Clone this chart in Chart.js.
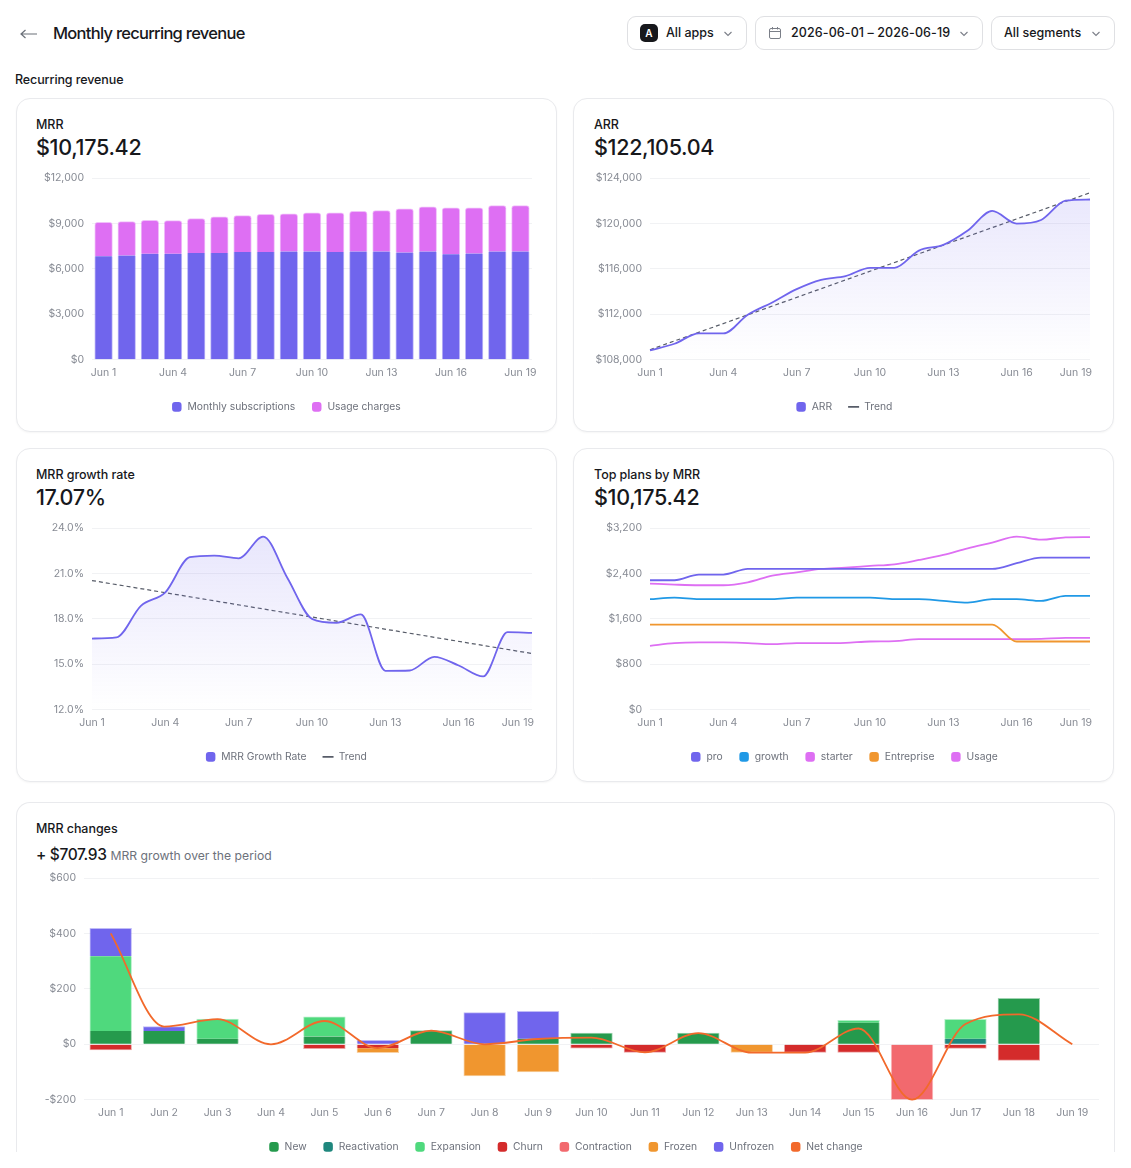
<!DOCTYPE html>
<html lang="en">
<head>
<meta charset="utf-8">
<title>Monthly recurring revenue</title>
<script src="https://cdn.jsdelivr.net/npm/chart.js@4"></script>
<style>
  html, body { margin: 0; background: #fff; }
  body { position: relative; width: 1131px; height: 1168px; overflow: hidden; font-family: Inter, sans-serif; color: #17181c; }
  .abs { position: absolute; white-space: nowrap; }
  .page-title { left: 53px; top: 22px; font-size: 16.5px; font-weight: 500; line-height: 22px; letter-spacing: -0.72px; }
  .section { left: 15px; top: 71px; font-size: 12.5px; font-weight: 500; line-height: 17px; letter-spacing: -0.1px; }
  .select { top: 16px; height: 32px; border: 1px solid #dfe0e3; border-radius: 9px; box-sizing: content-box; font-size: 12.5px; font-weight: 500; line-height: 32px; }
  .select span { position: absolute; top: 0; white-space: nowrap; }
  .select svg { position: absolute; }
  .app-badge { position: absolute; left: 12px; top: 7px; width: 18px; height: 18px; border-radius: 5px; background: #17181c; color: #fff; font-size: 10px; font-weight: 600; line-height: 18px; text-align: center; }
  .card { position: absolute; box-sizing: border-box; width: 541px; height: 334px; background: #fff; border: 1px solid #e9eaed; border-radius: 14px; box-shadow: 0 1px 2px rgba(20, 22, 30, 0.04); }
  .card.wide { top: 802px; width: 1099px; height: 350px; border-bottom: none; border-radius: 14px 14px 0 0; box-shadow: none; }
  .card-label { left: 20px; top: 17px; font-size: 12.5px; font-weight: 500; line-height: 17px; letter-spacing: -0.05px; }
  .card-value { left: 20px; top: 34px; font-size: 21.5px; font-weight: 500; line-height: 28px; letter-spacing: -0.3px; }
  .delta { left: 20px; top: 41px; font-size: 15.5px; font-weight: 500; line-height: 22px; letter-spacing: -0.35px; }
  .delta small { font-size: 12.2px; font-weight: 400; color: #6d717b; letter-spacing: 0; }
  .card.lft { left: 16px; }
  .card.lft .abs { left: 19px; }
  .card.lft canvas { left: -1px; }
  canvas { position: absolute; display: block; left: 0; }
</style>
</head>
<body>
<svg class="abs" style="left:20px;top:28px" width="18" height="12" viewBox="0 0 18 12" fill="none" stroke="#6b7079" stroke-width="1.2"><path d="M1 6h16M5.5 2 1 6l4.5 4"/></svg>
<div class="abs page-title">Monthly recurring revenue</div>

<div class="abs select" style="left:627px;width:118px">
  <div class="app-badge">A</div>
  <span style="left:38px">All apps</span>
  <svg style="left:95px;top:13px" width="10" height="8" viewBox="0 0 10 8" fill="none" stroke="#7b7f88" stroke-width="1.1"><path d="M1.5 2 5 5.5 8.5 2"/></svg>
</div>
<div class="abs select" style="left:755px;width:226px">
  <svg style="left:13px;top:10px" width="12" height="12" viewBox="0 0 12 12" fill="none" stroke="#7b7f88" stroke-width="1"><rect x="0.5" y="1.5" width="11" height="10" rx="1.5"/><path d="M0.5 4.5h11M3.5 0v2.5M8.5 0v2.5"/></svg>
  <span style="left:35px;letter-spacing:0.1px">2026-06-01 – 2026-06-19</span>
  <svg style="left:203px;top:13px" width="10" height="8" viewBox="0 0 10 8" fill="none" stroke="#7b7f88" stroke-width="1.1"><path d="M1.5 2 5 5.5 8.5 2"/></svg>
</div>
<div class="abs select" style="left:991px;width:122px">
  <span style="left:12px">All segments</span>
  <svg style="left:99px;top:13px" width="10" height="8" viewBox="0 0 10 8" fill="none" stroke="#7b7f88" stroke-width="1.1"><path d="M1.5 2 5 5.5 8.5 2"/></svg>
</div>

<div class="abs section">Recurring revenue</div>

<div class="card lft" style="top:98px">
  <div class="abs card-label">MRR</div>
  <div class="abs card-value">$10,175.42</div>
  <canvas id="mrrChart" width="540" height="263" style="top:69px"></canvas>
</div>
<div class="card" style="left:573px;top:98px">
  <div class="abs card-label">ARR</div>
  <div class="abs card-value">$122,105.04</div>
  <canvas id="arrChart" width="540" height="263" style="top:69px"></canvas>
</div>
<div class="card lft" style="top:448px">
  <div class="abs card-label">MRR growth rate</div>
  <div class="abs card-value">17.07%</div>
  <canvas id="growthChart" width="540" height="263" style="top:69px"></canvas>
</div>
<div class="card" style="left:573px;top:448px">
  <div class="abs card-label">Top plans by MRR</div>
  <div class="abs card-value">$10,175.42</div>
  <canvas id="plansChart" width="540" height="263" style="top:69px"></canvas>
</div>
<div class="card wide lft">
  <div class="abs card-label">MRR changes</div>
  <div class="abs delta">+ $707.93 <small>MRR growth over the period</small></div>
  <canvas id="changesChart" width="1099" height="294" style="top:65px"></canvas>
</div>

<script>
const days = ['Jun 1', 'Jun 2', 'Jun 3', 'Jun 4', 'Jun 5', 'Jun 6', 'Jun 7', 'Jun 8', 'Jun 9', 'Jun 10',
    'Jun 11', 'Jun 12', 'Jun 13', 'Jun 14', 'Jun 15', 'Jun 16', 'Jun 17', 'Jun 18', 'Jun 19'];

const mrrTicks = [0, 3000, 6000, 9000, 12000];
const monthlySubs = [6835, 6880, 6990, 6990, 7055, 7055, 7121, 7121, 7143, 7143, 7121, 7143, 7143, 7077, 7143, 6968, 7011, 7143, 7143];
const usageCharges = [2242, 2241, 2219, 2197, 2264, 2374, 2396, 2484, 2484, 2550, 2572, 2660, 2704, 2880, 2946, 3055, 3012, 3032, 3032];

const arrTicks = [108000, 112000, 116000, 120000, 124000];
const arrValues = [108820, 109406, 110315, 110315, 111956, 113040, 114212, 115032, 115360, 116087, 116087, 117610, 118108, 119368, 121097, 119984, 120306, 122005, 122105];
const arrTrend = [108880, null, null, null, null, null, null, null, null, null, null, null, null, null, null, null, null, null, 122700];

const growthTicks = [12, 15, 18, 21, 24];
const growthValues = [16.70, 16.77, 18.86, 19.75, 22.07, 22.18, 22.00, 23.43, 20.68, 18.00, 17.74, 18.29, 14.57, 14.59, 15.49, 14.92, 14.20, 17.12, 17.07];
const growthTrend = [20.53, null, null, null, null, null, null, null, null, null, null, null, null, null, null, null, null, null, 15.71];

const planTicks = [0, 800, 1600, 2400, 3200];
const proPlan = [2280, 2280, 2380, 2380, 2480, 2480, 2480, 2480, 2480, 2480, 2480, 2480, 2480, 2480, 2480, 2580, 2680, 2680, 2680];
const growthPlan = [1946, 1975, 1946, 1946, 1946, 1946, 1975, 1975, 1975, 1975, 1946, 1946, 1916, 1887, 1946, 1946, 1916, 2004, 2004];
const starterPlan = [2221, 2203, 2192, 2192, 2244, 2362, 2420, 2479, 2502, 2532, 2561, 2637, 2725, 2842, 2942, 3047, 2994, 3035, 3041];
const entreprisePlan = [1500, 1500, 1500, 1500, 1500, 1500, 1500, 1500, 1500, 1500, 1500, 1500, 1500, 1500, 1500, 1201, 1201, 1201, 1201];
const usagePlan = [1125, 1172, 1184, 1184, 1172, 1154, 1172, 1172, 1178, 1201, 1207, 1242, 1242, 1242, 1242, 1242, 1248, 1266, 1266];

const changeTicks = [-200, 0, 200, 400, 600];
const newMrr = [48, 48, 20, null, 28, null, 49, null, 20, 40, null, 40, null, null, 78, null, null, 166, null];
const reactivation = [null, null, null, null, null, null, null, null, null, null, null, null, null, null, null, null, 20, null, null];
const expansion = [270, null, 71, null, 71, null, null, null, null, null, null, null, null, null, 8, null, 70, null, null];
const churn = [-20, null, null, null, -16, -14, null, null, null, -14, -29, null, null, -29, -29, null, -15, -58, null];
const contraction = [null, null, null, null, null, null, null, null, null, null, null, null, null, null, null, -200, null, null, null];
const frozen = [null, null, null, null, null, -16, null, -114, -100, null, null, null, -29, null, null, null, null, null, null];
const unfrozen = [100, 16, null, null, null, 14, null, 114, 99, null, null, null, null, null, null, null, null, null, null];
const netChange = [400, 64, 91, 0, 84, -14, 49, 0, 19, 24, -29, 40, -30, -30, 57, -200, 73, 108, 0];

const PURPLE = '#7065ed';
const PINK = '#de6ff3';
const BLUE = '#2099e6';
const ORANGE = '#f0962f';
const TREND = '#575c68';

Chart.defaults.font.family = 'Inter, sans-serif';
Chart.defaults.font.size = 10.5;
Chart.defaults.animation = false;

function usd(v) {
    return (v < 0 ? '-$' : '$') + Math.abs(v).toLocaleString('en-US');
}

function pct(v) {
    return v.toFixed(1) + '%';
}

function legendItems(chart) {
    return chart.data.datasets.map((ds, i) => ({
        text: ds.label,
        datasetIndex: i,
        fillStyle: ds.swatch,
        strokeStyle: ds.swatch,
        fontColor: '#6d717b',
        pointStyle: ds.isTrend ? 'line' : 'rectRounded',
        lineWidth: ds.isTrend ? 1.6 : 0
    }));
}

// pushes the right-most tick label back inside the plot, the way the original does
const pullLastLabel = {
    id: 'pullLastLabel',
    beforeDraw(chart) {
        const items = chart.scales.x.getLabelItems();
        const last = items[items.length - 1];
        last.options.translation[0] = chart.chartArea.right + 2;
        last.options.textAlign = 'right';
    }
};

function baseOptions(box, xEvery, yTicks, yFormat) {
    return {
        responsive: false,
        layout: { autoPadding: false, padding: { top: box.top, right: box.side, bottom: box.bottom, left: box.side } },
        interaction: { mode: 'index', intersect: false },
        plugins: {
            tooltip: { enabled: false },
            legend: {
                position: 'bottom',
                labels: {
                    usePointStyle: true,
                    pointStyleWidth: 11,
                    boxHeight: 8,
                    padding: 16,
                    font: { size: 10.3 },
                    generateLabels: legendItems
                }
            }
        },
        scales: {
            x: {
                stacked: box.stacked,
                offset: box.offset,
                grid: { display: false, drawTicks: false },
                border: { display: false },
                afterFit: s => { s.height = box.axisHeight; s.paddingLeft = 0; s.paddingRight = 0; },
                ticks: {
                    autoSkip: false,
                    maxRotation: 0,
                    padding: 7,
                    color: '#878b94',
                    callback(v, i) { return i % xEvery === 0 ? days[i] : ''; }
                }
            },
            y: {
                stacked: box.stacked,
                min: yTicks[0],
                max: yTicks[yTicks.length - 1],
                afterFit: s => {
                    s.width = box.yWidth;
                    s.paddingTop = 0;
                    s.paddingBottom = 0;
                    s._computeLabelArea = () => undefined; // labels are wider than the narrowed axis box
                },
                afterBuildTicks: s => { s.ticks = yTicks.map(v => ({ value: v })); },
                grid: { color: '#f1f2f4', drawTicks: false },
                border: { display: false },
                ticks: { padding: 8, color: '#878b94', callback: yFormat }
            }
        }
    };
}

function areaFill(ctx) {
    const area = ctx.chart.chartArea;
    if (!area) return 'transparent';
    const g = ctx.chart.ctx.createLinearGradient(0, area.top, 0, area.bottom);
    g.addColorStop(0, 'rgba(112, 101, 237, 0.17)');
    g.addColorStop(1, 'rgba(112, 101, 237, 0)');
    return g;
}

function line(label, data, color) {
    return {
        label, data,
        swatch: color,
        borderColor: color,
        borderWidth: 1.8,
        pointRadius: 0,
        cubicInterpolationMode: 'monotone'
    };
}

function area(label, data) {
    return { ...line(label, data, PURPLE), fill: 'start', backgroundColor: areaFill };
}

function trend(data) {
    return {
        label: 'Trend', data,
        isTrend: true,
        swatch: TREND,
        borderColor: TREND,
        borderWidth: 1.2,
        borderDash: [4, 3],
        pointRadius: 0,
        spanGaps: true
    };
}

// pale edge only on the outside of a stack, none between its segments
function outerEdges(ctx) {
    const v = ctx.raw;
    if (v == null) return 0;
    const sets = ctx.chart.data.datasets.slice(ctx.datasetIndex + 1);
    const outer = !sets.some(d => d.stack && d.data[ctx.dataIndex] * v > 0);
    return { left: 1, right: 1, top: v > 0 && outer ? 1 : 0, bottom: v < 0 && outer ? 1 : 0 };
}

function bar(label, data, color, width, radius = 0) {
    return {
        label, data,
        swatch: color,
        backgroundColor: color,
        borderColor: color + '70',
        borderWidth: outerEdges,
        borderSkipped: false,
        borderRadius: { topLeft: radius, topRight: radius },
        inflateAmount: 0.35, // closes the hairline between stacked segments
        barPercentage: width,
        categoryPercentage: 1,
        stack: 'mrr',
        order: 1
    };
}

const smallBox = { top: 10, side: 24, bottom: 9, yWidth: 52, axisHeight: 26 };

new Chart(document.getElementById('mrrChart'), {
    type: 'bar',
    data: {
        labels: days,
        datasets: [
            bar('Monthly subscriptions', monthlySubs, PURPLE, 0.76),
            bar('Usage charges', usageCharges, PINK, 0.76, 3)
        ]
    },
    options: baseOptions({ ...smallBox, stacked: true, offset: true }, 3, mrrTicks, usd)
});

new Chart(document.getElementById('arrChart'), {
    type: 'line',
    data: { labels: days, datasets: [area('ARR', arrValues), trend(arrTrend)] },
    options: baseOptions({ ...smallBox, offset: false }, 3, arrTicks, usd),
    plugins: [pullLastLabel]
});

new Chart(document.getElementById('growthChart'), {
    type: 'line',
    data: { labels: days, datasets: [area('MRR Growth Rate', growthValues), trend(growthTrend)] },
    options: baseOptions({ ...smallBox, offset: false }, 3, growthTicks, pct),
    plugins: [pullLastLabel]
});

new Chart(document.getElementById('plansChart'), {
    type: 'line',
    data: {
        labels: days,
        datasets: [
            line('pro', proPlan, PURPLE),
            line('growth', growthPlan, BLUE),
            line('starter', starterPlan, PINK),
            line('Entreprise', entreprisePlan, ORANGE),
            line('Usage', usagePlan, PINK)
        ]
    },
    options: baseOptions({ ...smallBox, offset: false }, 3, planTicks, usd),
    plugins: [pullLastLabel]
});

new Chart(document.getElementById('changesChart'), {
    type: 'bar',
    data: {
        labels: days,
        datasets: [
            bar('New', newMrr, '#259a4d', 0.78),
            bar('Reactivation', reactivation, '#1f877d', 0.78),
            bar('Expansion', expansion, '#4fd97d', 0.78),
            bar('Churn', churn, '#d42b2b', 0.78),
            bar('Contraction', contraction, '#f2696e', 0.78),
            bar('Frozen', frozen, ORANGE, 0.78),
            bar('Unfrozen', unfrozen, PURPLE, 0.78),
            { ...line('Net change', netChange, '#f2692b'), type: 'line', order: 0, clip: false }
        ]
    },
    options: baseOptions({ top: 10, side: 16, bottom: 0, yWidth: 52, axisHeight: 26, stacked: true, offset: true }, 1, changeTicks, usd)
});
</script>
</body>
</html>
